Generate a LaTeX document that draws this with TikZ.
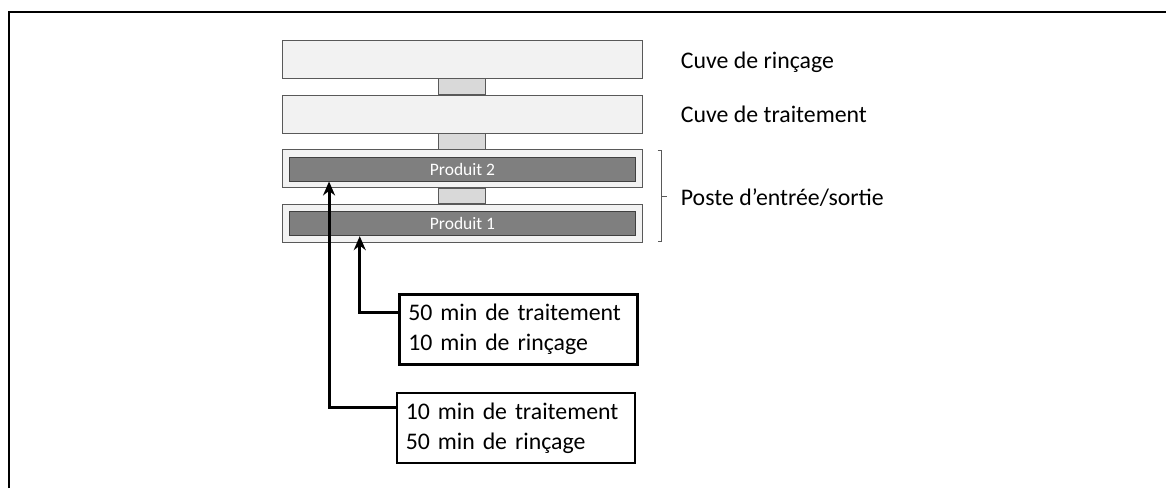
\documentclass[tikz,border=0pt]{standalone}
\usepackage{fontspec}
\setmainfont{Carlito}
\usetikzlibrary{arrows.meta,calc}
\definecolor{tankfill}{HTML}{F2F2F2}
\definecolor{tankline}{HTML}{595959}
\definecolor{connfill}{HTML}{D9D9D9}
\definecolor{prodfill}{HTML}{7F7F7F}
\definecolor{prodline}{HTML}{404040}
\tikzset{
  tank/.style={draw=tankline, fill=tankfill, line width=0.9pt, minimum width=360pt, minimum height=38pt, inner sep=0pt},
  prod/.style={draw=prodline, fill=prodfill, line width=0.9pt, minimum width=346pt, minimum height=24pt, inner sep=0pt, text=white, font=\fontsize{17.5}{20}\selectfont},
  conn/.style={draw=tankline, fill=connfill, line width=0.9pt},
  lbl/.style={anchor=base west, inner sep=0pt, font=\fontsize{23.8}{28}\selectfont},
  info/.style={draw=black, line width=2.6pt, minimum width=238pt, minimum height=70pt, inner sep=0pt, text width=220pt, align=left, font=\fontsize{23.8}{30}\selectfont},
  arr/.style={line width=3pt, -{Stealth[length=14pt,width=12pt]}},
  brace/.style={draw=tankline, line width=0.9pt}
}
\begin{document}
\begin{tikzpicture}[x=1pt,y=-1pt]
\useasboundingbox (0,0) rectangle (1166,488);
\draw[line width=2pt] (9,488) -- (9,12) -- (1167,12);
% tanks
\node[tank] (t1) at (462.3,59) {};
\node[tank] (t2) at (462.3,114) {};
\node[tank] (t3) at (462.3,168.5) {};
\node[tank] (t4) at (462.3,223) {};
% connectors between tanks
\path[conn] ($(t1.south)+(-23.5,0)$) rectangle ($(t2.north)+(23.5,0)$);
\path[conn] ($(t2.south)+(-23.5,0)$) rectangle ($(t3.north)+(23.5,0)$);
\path[conn] ($(t3.south)+(-23.5,0)$) rectangle ($(t4.north)+(23.5,0)$);
% products
\node[prod] (p2) at (462.5,169) {Produit 2};
\node[prod] (p1) at (462.5,223.7) {Produit 1};
% labels
\node[lbl] (l1) at (680.7,68.3) {Cuve de rinçage};
\node[lbl] (l2) at (680.7,122.7) {Cuve de traitement};
\node[lbl] (l3) at (680.7,205) {Poste d’entrée/sortie};
% brace
\draw[brace] (657.7,150) -- (661.7,150) -- (661.7,241.7) -- (657.7,241.7);
\draw[brace] (661.7,196.7) -- (666.7,196.7);
% info boxes
\node[info] (A) at (518.3,329.7) {50 min de traitement\\10 min de rinçage};
\node[info] (B) at (515.8,428) {10 min de traitement\\50 min de rinçage};
% arrows
\coordinate (e1) at ([xshift=70.7pt]p1.south west);
\coordinate (e2) at ([xshift=40pt]p2.south west);
\draw[arr] ([yshift=-19pt]A.north west) -| (e1);
\draw[arr] ([yshift=-16pt]B.north west) -| (e2);
\end{tikzpicture}
\end{document}
